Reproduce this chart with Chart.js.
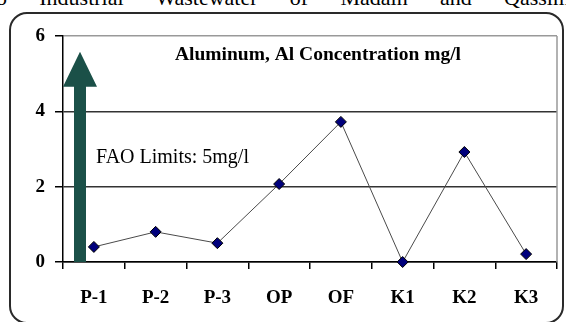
<!DOCTYPE html>
<html>
<head>
<meta charset="utf-8">
<script src="https://cdn.jsdelivr.net/npm/chart.js@4/dist/chart.umd.min.js"></script>
<style>
  html, body { margin: 0; padding: 0; background: #fff; }
  #wrap { position: relative; width: 566px; height: 322px; overflow: hidden; }
  #caption {
    position: absolute; left: -4px; top: -15px; width: 574px;
    font: 22px "Liberation Serif", "Times New Roman", serif; color: #000;
    text-align: justify; text-align-last: justify; white-space: nowrap;
  }
  #frame {
    position: absolute; left: 9px; top: 12px; width: 555px; height: 312px;
    box-sizing: border-box; border: 2px solid #2a2a2a; border-radius: 18px;
  }
  canvas { position: absolute; left: 0; top: 0; }
</style>
</head>
<body>
<div id="wrap">
  <div id="caption">o Industrial Wastewater of Madain and Qassim</div>
  <div id="frame"></div>
  <canvas id="c" width="566" height="322"></canvas>
</div>
<script>
// Sampling sites and measured aluminium (mg/l)
const sites = ['P-1', 'P-2', 'P-3', 'OP', 'OF', 'K1', 'K2', 'K3'];
const aluminium = [0.4, 0.8, 0.5, 2.07, 3.72, 0, 2.92, 0.21];
const yTicks = [0, 2, 4, 6];
const FAO_LIMIT = 5;
const chartTitle = 'Aluminum, Al Concentration mg/l';
const limitLabel = 'FAO Limits: 5mg/l';

const serif = '"Liberation Serif", "Times New Roman", serif';

// Arrow marking the FAO limit, plus the in-plot texts and the right frame edge
const decorations = {
  id: 'decorations',
  beforeDatasetsDraw(chart) {
    const { ctx, chartArea: a, scales: { y } } = chart;
    ctx.save();
    // right edge of the plot
    ctx.strokeStyle = '#999';
    ctx.lineWidth = 1.5;
    ctx.beginPath();
    ctx.moveTo(a.right, a.top);
    ctx.lineTo(a.right, a.bottom);
    ctx.stroke();

    // FAO limit arrow
    const cx = a.left + 17;
    const yLimit = y.getPixelForValue(FAO_LIMIT);
    const base = y.getPixelForValue(0);
    const headBase = yLimit + 13;
    const tip = yLimit - 22;
    ctx.fillStyle = '#1b5048';
    ctx.beginPath();
    ctx.moveTo(cx - 6, base);
    ctx.lineTo(cx - 6, headBase);
    ctx.lineTo(cx - 17, headBase);
    ctx.lineTo(cx, tip);
    ctx.lineTo(cx + 17, headBase);
    ctx.lineTo(cx + 6, headBase);
    ctx.lineTo(cx + 6, base);
    ctx.closePath();
    ctx.fill();

    // texts
    ctx.fillStyle = '#000';
    ctx.textBaseline = 'middle';
    ctx.textAlign = 'left';
    ctx.font = 'bold 19.5px ' + serif;
    ctx.fillText(chartTitle, 175, 55);
    ctx.font = '20px ' + serif;
    ctx.fillText(limitLabel, 96, 158);
    ctx.restore();
  }
};

new Chart(document.getElementById('c'), {
  type: 'line',
  data: {
    labels: sites,
    datasets: [{
      data: aluminium,
      borderColor: '#4a4a4a',
      borderWidth: 1,
      pointStyle: 'rectRot',
      pointRadius: 5.5,
      pointHoverRadius: 5.5,
      pointBackgroundColor: '#00007c',
      pointBorderColor: '#000',
      pointBorderWidth: 1,
      tension: 0,
      clip: false
    }]
  },
  options: {
    responsive: false,
    devicePixelRatio: 1,
    animation: false,
    events: [],
    layout: { padding: { left: 0, top: 36, right: 9, bottom: 0 } },
    plugins: { legend: { display: false }, tooltip: { enabled: false }, title: { display: false } },
    scales: {
      x: {
        offset: true,
        grid: { offset: true, drawOnChartArea: false, drawTicks: true, tickLength: 7, tickColor: '#000', lineWidth: 1.5 },
        border: { display: true, color: '#000', width: 1.5 },
        ticks: { color: '#000', font: { family: serif, size: 19, weight: 'bold' }, padding: 18, maxRotation: 0, autoSkip: false },
        afterFit(scale) { scale.height = 60; }
      },
      y: {
        min: yTicks[0],
        max: yTicks[yTicks.length - 1],
        afterBuildTicks(scale) { scale.ticks = yTicks.map(v => ({ value: v })); },
        grid: {
          color: ctx => ctx.tick && ctx.tick.value === yTicks[yTicks.length - 1] ? '#999' : '#333',
          lineWidth: 1.5,
          tickLength: 8,
          tickColor: '#000'
        },
        border: { display: true, color: '#000', width: 1.5 },
        ticks: { color: '#000', font: { family: serif, size: 19, weight: 'bold' }, padding: 10 },
        afterFit(scale) { scale.width = 63; }
      }
    }
  },
  plugins: [decorations]
});
</script>
</body>
</html>
